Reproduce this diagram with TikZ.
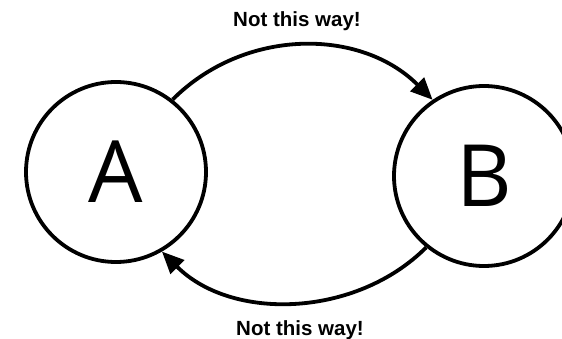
\documentclass[tikz,border=0pt]{standalone}
\usepackage{fontspec}
\usetikzlibrary{arrows.meta}
\newfontfamily\labelfont{Liberation Sans}
\newfontfamily\statefont{Open Sans}
\begin{document}
\begin{tikzpicture}[x=1pt,y=-1pt,
  statenode/.style={circle,draw,line width=3.8pt,minimum size=180pt,inner sep=0pt,
    font=\statefont\fontsize{86}{90}\selectfont},
  waylabel/.style={anchor=base,inner sep=0pt,font=\labelfont\bfseries\fontsize{20.5}{22}\selectfont},
  conn/.style={line width=3.8pt,-{Triangle[length=22pt,width=19pt]}}]
\useasboundingbox (0,0) rectangle (562,339);
\begin{scope}
\clip (0,0) rectangle (562,339);
\node[statenode] (A) at (116,172) {A};
\node[statenode] (B) at (484,176) {B};
\end{scope}
\node[waylabel] (t1) at (297,26.5) {Not this way!};
\node[waylabel] (t2) at (300,335.5) {Not this way!};
\draw[conn] (A.52) .. controls +(72,-72) and +(-72,-72) .. (B.124);
\draw[conn] (B.231) .. controls +(-70,70) and +(70,70) .. (A.300);
\end{tikzpicture}
\end{document}
